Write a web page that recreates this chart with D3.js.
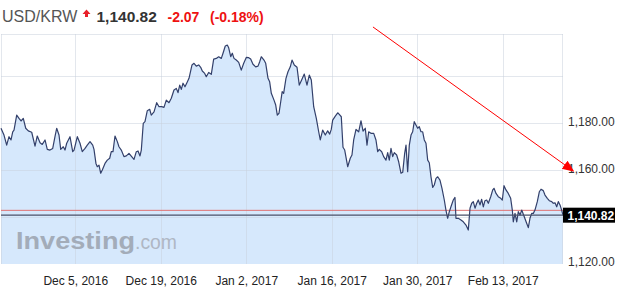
<!DOCTYPE html>
<html lang="en">
<head>
<meta charset="UTF-8">
<title>USD/KRW</title>
<style>
  body { margin: 0; background: #fff; }
  svg { display: block; font-family: "Liberation Sans", Arial, sans-serif; }
</style>
</head>
<body>
<svg id="chart" width="624" height="301"></svg>
<script src="https://d3js.org/d3.v7.min.js"></script>
<script>
// header values
const pair = "USD/KRW";
const lastPrice = 1140.82;
const change = -2.07;
const changePct = -0.18;
const prevClose = 1142.89;

// series: days after seriesStart, and the rate at that time
const seriesStart = "2016-11-22T20:00";
const dayOffsets = [
  0, 0.49, 0.93, 1.31, 1.64, 1.92, 2.13, 2.57, 2.95, 3.28, 3.65, 4.05, 4.47, 5.03, 5.57, 5.94,
  6.39, 6.76, 7.21, 7.58, 8.02, 8.47, 8.84, 9.12, 9.50, 9.78, 10.20, 10.48, 10.76, 11.30, 11.74,
  11.96, 12.50, 12.94, 13.31, 13.76, 14.13, 14.58, 15.02, 15.23, 15.55, 15.77, 16.05, 16.33,
  16.59, 17.03, 17.41, 17.80, 18.06, 18.34, 18.67, 19.05, 19.32, 19.70, 20.14, 20.52, 20.96,
  21.40, 21.78, 22.16, 22.44, 22.76, 22.98, 23.30, 23.58, 23.96, 24.35, 24.61, 25.06, 25.50,
  25.88, 26.32, 26.69, 27.07, 27.51, 27.89, 28.33, 28.71, 28.99, 29.27, 29.53, 29.81, 30.13,
  30.41, 30.79, 31.28, 31.61, 31.98, 32.38, 32.70, 32.97, 33.36, 33.62, 34.01, 34.44, 34.83,
  35.26, 35.65, 36.08, 36.36, 36.73, 37.06, 37.29, 37.62, 37.88, 38.16, 38.53, 38.93, 39.35,
  39.75, 40.17, 40.57, 40.89, 41.27, 41.71, 42.09, 42.37, 42.63, 43.07, 43.35, 43.73, 44.00,
  44.27, 44.71, 44.99, 45.25, 45.53, 45.81, 46.05, 46.29, 46.67, 47.00, 47.38, 47.66, 48.03,
  48.48, 48.85, 49.18, 49.67, 50.11, 50.49, 50.82, 51.21, 51.64, 52.03, 52.29, 52.68, 53.11,
  53.50, 53.83, 54.09, 54.32, 54.75, 55.14, 55.40, 55.73, 56.01, 56.29, 56.78, 57.20, 57.48,
  57.76, 58.14, 58.58, 58.96, 59.29, 59.66, 59.94, 60.22, 60.64, 61.04, 61.41, 61.69, 61.95,
  62.35, 62.67, 63.05, 63.33, 63.59, 63.87, 64.15, 64.41, 64.80, 65.13, 65.51, 65.79, 66.11,
  66.33, 66.60, 66.87, 67.15, 67.42, 67.68, 67.96, 68.24, 68.50, 68.78, 69.06, 69.32, 69.60,
  69.88, 70.14, 70.42, 70.70, 70.96, 71.24, 71.52, 71.89, 72.22, 72.60, 72.87, 73.15, 73.42,
  73.69, 74.07, 74.35, 74.51, 74.89, 75.33, 75.71, 76.15, 76.53, 76.81, 77.09, 77.35, 77.63,
  77.91, 78.17, 78.45, 78.72, 78.99, 79.26, 79.54, 79.81, 80.20, 80.53, 80.74, 81.07, 81.44,
  81.84, 82.10, 82.38, 82.70, 83.08, 83.47, 83.74, 83.90, 84.18, 84.46, 84.72, 85.00, 85.28,
  85.65, 86.09, 86.36, 86.63, 86.91, 87.18, 87.45, 87.83, 88.16, 88.44, 88.81, 89.09, 89.47,
  89.80, 90.19, 90.45, 90.73, 91.01, 91.27, 91.55, 91.82, 92.04
];
const rates = [
  1177.9, 1175.0, 1170.7, 1174.3, 1172.9, 1176.4, 1177.1, 1183.5, 1182.1, 1181.0, 1182.1, 1177.9,
  1176.8, 1176.2, 1170.3, 1174.6, 1171.7, 1171.0, 1172.9, 1168.9, 1168.6, 1169.3, 1174.3, 1177.9,
  1175.0, 1168.9, 1170.0, 1168.6, 1171.5, 1174.3, 1167.9, 1168.6, 1174.3, 1171.5, 1167.9, 1169.3,
  1170.7, 1172.2, 1170.7, 1168.9, 1162.9, 1161.5, 1162.2, 1158.7, 1160.1, 1162.9, 1164.3, 1165.1,
  1167.9, 1167.9, 1174.6, 1172.2, 1170.0, 1168.6, 1165.8, 1166.1, 1167.2, 1165.8, 1164.6, 1167.9,
  1168.2, 1166.1, 1168.6, 1180.0, 1180.7, 1185.4, 1186.0, 1183.5, 1184.9, 1188.8, 1187.1, 1187.1,
  1186.8, 1189.9, 1188.8, 1190.7, 1194.2, 1194.9, 1193.1, 1196.3, 1194.5, 1197.1, 1195.6, 1197.1,
  1199.2, 1204.9, 1205.6, 1204.4, 1204.9, 1203.9, 1202.3, 1201.3, 1199.9, 1201.7, 1200.9, 1207.4,
  1207.7, 1208.4, 1207.7, 1209.9, 1213.0, 1213.4, 1212.2, 1208.4, 1209.9, 1207.7, 1207.0, 1206.0,
  1202.7, 1205.6, 1208.1, 1208.0, 1207.4, 1205.2, 1204.1, 1204.4, 1206.3, 1208.4, 1207.0, 1205.6,
  1199.2, 1197.7, 1192.8, 1189.9, 1187.8, 1183.5, 1184.3, 1189.2, 1193.5, 1192.8, 1199.2, 1202.0,
  1204.1, 1207.0, 1204.9, 1203.9, 1196.3, 1198.2, 1201.0, 1196.3, 1200.6, 1198.5, 1187.1, 1182.1,
  1176.4, 1172.9, 1177.1, 1175.0, 1176.8, 1175.4, 1177.4, 1181.4, 1183.1, 1184.5, 1183.8, 1182.8,
  1169.8, 1168.6, 1161.5, 1165.1, 1166.5, 1172.9, 1177.4, 1176.4, 1181.1, 1176.7, 1177.9, 1170.7,
  1176.4, 1175.7, 1175.7, 1172.9, 1167.9, 1168.9, 1167.9, 1165.8, 1164.3, 1167.5, 1164.3, 1169.3,
  1165.8, 1167.5, 1166.5, 1163.6, 1158.7, 1159.1, 1167.2, 1170.7, 1159.4, 1170.7, 1175.0, 1176.4,
  1180.7, 1179.3, 1177.9, 1178.6, 1176.4, 1176.4, 1172.9, 1171.5, 1164.3, 1163.2, 1157.2, 1152.7,
  1153.7, 1156.5, 1157.2, 1155.8, 1152.3, 1147.3, 1143.0, 1139.5, 1142.3, 1144.4, 1147.3, 1148.4,
  1139.5, 1139.5, 1138.8, 1138.0, 1136.6, 1134.5, 1143.8, 1145.9, 1146.6, 1143.8, 1145.9, 1147.3,
  1145.2, 1147.6, 1144.4, 1147.0, 1147.3, 1145.9, 1148.7, 1151.6, 1152.3, 1150.1, 1148.7, 1148.0,
  1147.3, 1153.4, 1151.6, 1150.1, 1148.0, 1143.0, 1138.0, 1141.6, 1138.0, 1142.3, 1140.9, 1143.0,
  1140.5, 1137.4, 1135.5, 1139.5, 1141.6, 1141.6, 1143.0, 1146.6, 1150.8, 1151.9, 1151.3, 1149.4,
  1148.0, 1147.0, 1146.6, 1145.9, 1146.1, 1144.4, 1146.6, 1145.2, 1143.0, 1140.8
];

const xTickLabels = ["Dec 5, 2016", "Dec 19, 2016", "Jan 2, 2017", "Jan 16, 2017", "Jan 30, 2017", "Feb 13, 2017"];
const yTickLabels = [1120, 1160, 1180];
const yGridValues = [1140, 1160, 1180, 1200];
const yMin = 1120;
const yMax = 1218.1;

// hand-drawn trend arrow (start / end)
const trendDates = ["2017-01-22T18:00", "2017-02-24T08:00"];
const trendRates = [1221.1, 1160.1];

const svg = d3.select("#chart");
const plot = { left: 1, right: 563, top: 34, bottom: 264 };

// plain hyphen minus, like the site
const fmt = d3.formatLocale({ decimal: ".", thousands: ",", grouping: [3], currency: ["", ""], minus: "-" });
const price = fmt.format(",.2f");

const start = new Date(seriesStart);
const data = dayOffsets.map((d, i) => ({
  date: new Date(start.getTime() + d * 864e5),
  rate: rates[i]
}));

const x = d3.scaleTime()
  .domain(d3.extent(data, d => d.date))
  .range([plot.left, plot.right]);
const y = d3.scaleLinear()
  .domain([yMin, yMax])
  .range([plot.bottom, plot.top]);

const parseTick = d3.timeParse("%b %-d, %Y");
const tickDates = xTickLabels.map(parseTick);

// area
svg.append("path")
  .datum(data)
  .attr("fill", "rgb(214,232,252)")
  .attr("d", d3.area().x(d => x(d.date)).y0(plot.bottom).y1(d => y(d.rate)));

// grid on top of the fill, semi transparent
const grid = svg.append("g")
  .attr("stroke", "#c8cfdc")
  .attr("stroke-opacity", 0.5)
  .attr("shape-rendering", "crispEdges");
grid.selectAll(".v").data(tickDates).enter().append("line")
  .attr("x1", d => Math.round(x(d)) + 0.5).attr("x2", d => Math.round(x(d)) + 0.5)
  .attr("y1", plot.top).attr("y2", plot.bottom);
grid.selectAll(".h").data(yGridValues).enter().append("line")
  .attr("x1", plot.left).attr("x2", plot.right)
  .attr("y1", d => Math.round(y(d)) + 0.5).attr("y2", d => Math.round(y(d)) + 0.5);
grid.append("line").attr("x1", plot.left).attr("x2", plot.right)
  .attr("y1", plot.top + 0.5).attr("y2", plot.top + 0.5);
grid.append("line").attr("x1", plot.left + 0.5).attr("x2", plot.left + 0.5)
  .attr("y1", plot.top).attr("y2", plot.bottom);
grid.append("line").attr("x1", plot.right - 0.5).attr("x2", plot.right - 0.5)
  .attr("y1", plot.top).attr("y2", plot.bottom);

// watermark
svg.append("text")
  .attr("x", 16).attr("y", 249)
  .attr("font-size", 23).attr("font-weight", "bold")
  .attr("fill", "#a3acb9")
  .attr("textLength", 119).attr("lengthAdjust", "spacingAndGlyphs")
  .text("Investing");
svg.append("text")
  .attr("x", 135).attr("y", 249)
  .attr("font-size", 21)
  .attr("fill", "#afb7c4")
  .attr("textLength", 42).attr("lengthAdjust", "spacingAndGlyphs")
  .text(".com");

// previous close line
svg.append("line")
  .attr("x1", plot.left).attr("x2", plot.right)
  .attr("y1", y(prevClose)).attr("y2", y(prevClose))
  .attr("stroke", "#e07070").attr("stroke-width", 1);

// price line
svg.append("path")
  .datum(data)
  .attr("fill", "none")
  .attr("stroke", "#33406b")
  .attr("stroke-width", 1.2)
  .attr("stroke-linejoin", "round")
  .attr("d", d3.line().x(d => x(d.date)).y(d => y(d.rate)));

// last price line
svg.append("line")
  .attr("x1", plot.left).attr("x2", plot.right)
  .attr("y1", y(lastPrice)).attr("y2", y(lastPrice))
  .attr("stroke", "#4a5068").attr("stroke-width", 1.2);

// y axis labels
const yAxis = svg.append("g")
  .attr("transform", `translate(${plot.right},0)`)
  .call(d3.axisRight(y).tickValues(yTickLabels).tickFormat(price).tickSize(0).tickPadding(5));
yAxis.select(".domain").remove();
yAxis.selectAll("text")
  .attr("dy", "0.15em")
  .attr("fill", "#333")
  .style("font-size", "12px")
  .style("font-family", "'Liberation Sans', Arial, sans-serif");

// x axis labels
const xAxis = svg.append("g")
  .attr("transform", `translate(0,${plot.bottom})`)
  .call(d3.axisBottom(x).tickValues(tickDates).tickFormat(d3.timeFormat("%b %-d, %Y")).tickSize(0).tickPadding(12.5));
xAxis.select(".domain").remove();
xAxis.selectAll("text")
  .attr("fill", "#222")
  .style("font-size", "12px")
  .style("font-family", "'Liberation Sans', Arial, sans-serif");

// last price box
const py = y(lastPrice);
svg.append("rect")
  .attr("x", plot.right).attr("y", py - 7.5)
  .attr("width", 52).attr("height", 15)
  .attr("fill", "#000");
svg.append("text")
  .attr("x", plot.right + 4.5).attr("y", py + 4.5)
  .attr("font-size", 12).attr("font-weight", "bold")
  .attr("fill", "#fff")
  .text(price(lastPrice));

// trend arrow
svg.append("defs").append("marker")
  .attr("id", "arrow")
  .attr("markerUnits", "userSpaceOnUse")
  .attr("viewBox", "0 -6 12 12")
  .attr("refX", 9).attr("refY", 0)
  .attr("markerWidth", 12).attr("markerHeight", 12)
  .attr("orient", "auto")
  .append("path")
  .attr("d", "M0,-5L12,0L0,5Z")
  .attr("fill", "#f00");
svg.append("line")
  .attr("x1", x(new Date(trendDates[0]))).attr("y1", y(trendRates[0]))
  .attr("x2", x(new Date(trendDates[1]))).attr("y2", y(trendRates[1]))
  .attr("stroke", "#f00").attr("stroke-width", 1)
  .attr("marker-end", "url(#arrow)");

// header
const header = svg.append("g");
header.append("text")
  .attr("x", 2).attr("y", 21.5)
  .attr("font-size", 16).attr("fill", "#555")
  .text(pair);
header.append("path")
  .attr("d", "M86.5,9.5L90.5,14L88,14L88,17L85,17L85,14L82.5,14Z")
  .attr("fill", "#e8202a");
header.append("text")
  .attr("x", 96.5).attr("y", 21.5)
  .attr("font-size", 15.5).attr("font-weight", "bold").attr("fill", "#333")
  .text(price(lastPrice));
header.append("text")
  .attr("x", 167.5).attr("y", 21.5)
  .attr("font-size", 14).attr("font-weight", "bold").attr("fill", "#ee1111")
  .text(fmt.format(".2f")(change));
header.append("text")
  .attr("x", 210).attr("y", 21.5)
  .attr("font-size", 14).attr("font-weight", "bold").attr("fill", "#ee1111")
  .text(`(${fmt.format(".2f")(changePct)}%)`);
</script>
</body>
</html>
